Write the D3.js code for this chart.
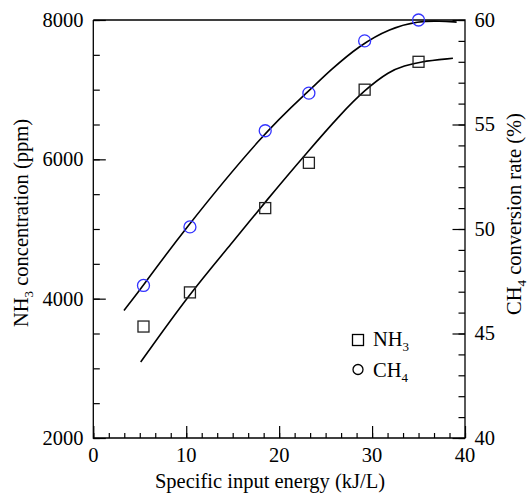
<!DOCTYPE html>
<html>
<head>
<meta charset="utf-8">
<script src="https://d3js.org/d3.v7.min.js"></script>
<style>
  body { margin: 0; background: #fff; }
</style>
</head>
<body>
<div id="chart"></div>
<script>
// measured points
const energy = [5.4, 10.4, 18.5, 23.2, 29.2, 35.0];
const nh3 = [3600, 4090, 5300, 5950, 7000, 7400];
const ch4 = [47.3, 50.1, 54.7, 56.5, 59.0, 60.0];

// fitted curves
const nh3FitX = [5.1, 10.4, 15.2, 18.5, 23.2, 26.7, 29.2, 31.9, 33.5, 35.0, 38.7];
const nh3FitY = [3090, 4080, 4840, 5390, 6130, 6660, 6995, 7270, 7340, 7400, 7450];
const ch4FitX = [3.3, 5.4, 9.3, 18.5, 23.2, 25.5, 28.7, 31.9, 35.0, 37.3, 39.1];
const ch4FitY = [46.1, 47.3, 49.7, 54.7, 56.6, 57.6, 58.8, 59.6, 59.95, 59.95, 59.9];

const xTicks = [0, 10, 20, 30, 40];
const leftTicks = [2000, 4000, 6000, 8000];
const rightTicks = [40, 45, 50, 55, 60];

const width = 530, height = 495;
const pLeft = 93.3, pRight = 465, pTop = 20, pBottom = 438;
const serif = "Liberation Serif";
const fs = 20.5, sub = 13;

const x = d3.scaleLinear().domain([0, 40]).range([pLeft, pRight]);
const yL = d3.scaleLinear().domain([2000, 8000]).range([pBottom, pTop]);
const yR = d3.scaleLinear().domain([40, 60]).range([pBottom, pTop]);

const svg = d3.select("#chart").append("svg")
    .attr("width", width)
    .attr("height", height)
    .style("display", "block");

// axes (ticks inward)
svg.append("g")
    .attr("transform", `translate(0,${pBottom})`)
    .call(d3.axisTop(x).tickValues(d3.range(0, 40.01, 10 / 6)).tickSize(5).tickFormat(""));
svg.append("g")
    .attr("transform", `translate(0,${pBottom})`)
    .call(d3.axisTop(x).tickValues(xTicks).tickSize(12).tickFormat(""));

svg.append("g")
    .attr("transform", `translate(${pLeft},0)`)
    .call(d3.axisRight(yL).tickValues(d3.range(2000, 8001, 500)).tickSize(6.5).tickFormat(""));
svg.append("g")
    .attr("transform", `translate(${pLeft},0)`)
    .call(d3.axisRight(yL).tickValues(leftTicks).tickSize(12.5).tickFormat(""));

svg.append("g")
    .attr("transform", `translate(${pRight},0)`)
    .call(d3.axisLeft(yR).tickValues(d3.range(40, 60.01, 1)).tickSize(6.5).tickFormat(""));
svg.append("g")
    .attr("transform", `translate(${pRight},0)`)
    .call(d3.axisLeft(yR).tickValues(rightTicks).tickSize(12.5).tickFormat(""));

svg.selectAll(".domain").remove();
svg.selectAll(".tick line").attr("stroke", "#000").attr("stroke-width", 1.2);

// frame: left, bottom, right, top
svg.append("path")
    .attr("d", `M${pLeft},${pTop}V${pBottom}H${pRight}V${pTop}H${pLeft}`)
    .attr("fill", "none")
    .attr("stroke", "#000")
    .attr("stroke-width", 1.3);

// helper so every text gets the serif font directly
function txt(sel) {
    return sel.append("text")
        .attr("font-family", serif)
        .attr("font-size", fs)
        .attr("fill", "#000");
}

// tick labels
xTicks.forEach(d => {
    txt(svg).attr("x", x(d)).attr("y", 462)
        .attr("text-anchor", "middle").text(d);
});
leftTicks.forEach(d => {
    txt(svg).attr("x", 83.5).attr("y", yL(d)).attr("dy", "0.34em")
        .attr("text-anchor", "end").text(d);
});
rightTicks.forEach(d => {
    txt(svg).attr("x", 474.5).attr("y", yR(d)).attr("dy", "0.34em").text(d);
});

// axis titles
txt(svg).attr("x", 270).attr("y", 488)
    .attr("text-anchor", "middle")
    .text("Specific input energy (kJ/L)");

const lt = txt(svg)
    .attr("transform", `translate(27.5,223) rotate(-90)`)
    .attr("text-anchor", "middle");
lt.append("tspan").text("NH");
lt.append("tspan").attr("font-size", sub).attr("dy", 5).text("3");
lt.append("tspan").attr("dy", -5).text(" concentration (ppm)");

const rt = txt(svg)
    .attr("transform", `translate(521,214) rotate(-90)`)
    .attr("text-anchor", "middle");
rt.append("tspan").text("CH");
rt.append("tspan").attr("font-size", sub).attr("dy", 5).text("4");
rt.append("tspan").attr("dy", -5).text(" conversion rate (%)");

// fitted curves
const nh3Line = d3.line()
    .x((d, i) => x(nh3FitX[i]))
    .y(d => yL(d))
    .curve(d3.curveBasis);
const ch4Line = d3.line()
    .x((d, i) => x(ch4FitX[i]))
    .y(d => yR(d))
    .curve(d3.curveBasis);

svg.append("path")
    .attr("d", nh3Line(nh3FitY))
    .attr("fill", "none")
    .attr("stroke", "#000")
    .attr("stroke-width", 1.6);
svg.append("path")
    .attr("d", ch4Line(ch4FitY))
    .attr("fill", "none")
    .attr("stroke", "#000")
    .attr("stroke-width", 1.6);

// markers
const sq = 11;
svg.selectAll(".sq").data(nh3).join("rect")
    .attr("class", "sq")
    .attr("x", (d, i) => x(energy[i]) - sq / 2)
    .attr("y", d => yL(d) - sq / 2)
    .attr("width", sq)
    .attr("height", sq)
    .attr("fill", "none")
    .attr("stroke", "#222")
    .attr("stroke-width", 1.3);

svg.selectAll(".ci").data(ch4).join("circle")
    .attr("class", "ci")
    .attr("cx", (d, i) => x(energy[i]))
    .attr("cy", d => yR(d))
    .attr("r", 6)
    .attr("fill", "none")
    .attr("stroke", "#3333ff")
    .attr("stroke-width", 1.3);

// legend
svg.append("rect")
    .attr("x", 358 - 5.5).attr("y", 340 - 5.5)
    .attr("width", 11).attr("height", 11)
    .attr("fill", "none").attr("stroke", "#000").attr("stroke-width", 1.3);
svg.append("circle")
    .attr("cx", 358).attr("cy", 369.5).attr("r", 5)
    .attr("fill", "none").attr("stroke", "#000").attr("stroke-width", 1.3);

const l1 = txt(svg).attr("x", 373).attr("y", 346);
l1.append("tspan").text("NH");
l1.append("tspan").attr("font-size", sub).attr("dy", 5).text("3");
const l2 = txt(svg).attr("x", 373).attr("y", 377);
l2.append("tspan").text("CH");
l2.append("tspan").attr("font-size", sub).attr("dy", 5).text("4");
</script>
</body>
</html>
